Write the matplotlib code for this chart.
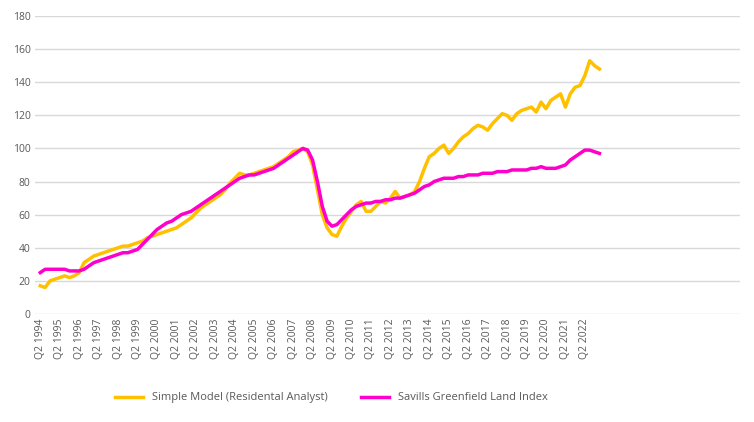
import matplotlib
matplotlib.use("Agg")
import matplotlib.pyplot as plt
import numpy as np

plt.rcParams['font.family'] = ['Open Sans', 'DejaVu Sans']

simple_model = [17,16,20,21, 22,23,22,23, 25,31,33,35, 36,37,38,39, 40,41,41,42,
    43,44,46,47, 48,49,50,51, 52,54,56,58, 61,64,66,68, 70,72,75,79, 82,85,84,84,
    85,86,87,88, 89,91,93,95, 98,99,100,98, 90,75,60,52, 48,47,53,58, 62,66,68,62,
    62,65,68,67, 70,74,70,71, 72,74,80,88, 95,97,100,102, 97,100,104,107,
    109,112,114,113, 111,115,118,121, 120,117,121,123, 124,125,122,128,
    124,129,131,133, 125,133,137,138, 144,153,150,148]
savills = [25,27,27,27, 27,27,26,26, 26,27,29,31, 32,33,34,35, 36,37,37,38,
    39,42,45,48, 51,53,55,56, 58,60,61,62, 64,66,68,70, 72,74,76,78, 80,82,83,84,
    84,85,86,87, 88,90,92,94, 96,98,100,99, 93,80,65,56, 53,54,57,60, 63,65,66,67,
    67,68,68,69, 69,70,70,71, 72,73,75,77, 78,80,81,82, 82,82,83,83,
    84,84,84,85, 85,85,86,86, 86,87,87,87, 87,88,88,89, 88,88,88,89,
    90,93,95,97, 99,99,98,97]
tick_labels = [f"Q2 {y}" for y in range(1994, 2023)]

fig = plt.figure(figsize=(7.54, 4.22), dpi=100)
ax = fig.add_axes([0.047, 0.256, 0.935, 0.706])
x = np.arange(len(simple_model))
ax.plot(x, simple_model, color='#FFC000', lw=2.5, label='Simple Model (Residental Analyst)')
ax.plot(x, savills, color='#FF00CC', lw=2.5, label='Savills Greenfield Land Index')
ax.set_ylim(0, 180)
ax.set_yticks(range(0, 181, 20))
ax.set_xlim(-1, 144)
ax.set_xticks(np.arange(0, len(tick_labels) * 4, 4))
ax.set_xticklabels(tick_labels, rotation=90)
ax.grid(axis='y', color='#D9D9D9', lw=1)
ax.set_axisbelow(True)
for s in ax.spines.values():
    s.set_visible(False)
ax.tick_params(length=0, labelsize=7.5, colors='#595959')
ax.legend(loc='upper center', bbox_to_anchor=(0.42, -0.23), ncol=2, frameon=False,
          fontsize=8, labelcolor='#595959', handlelength=2.5, columnspacing=3)
fig.savefig('out.png', dpi=100)
